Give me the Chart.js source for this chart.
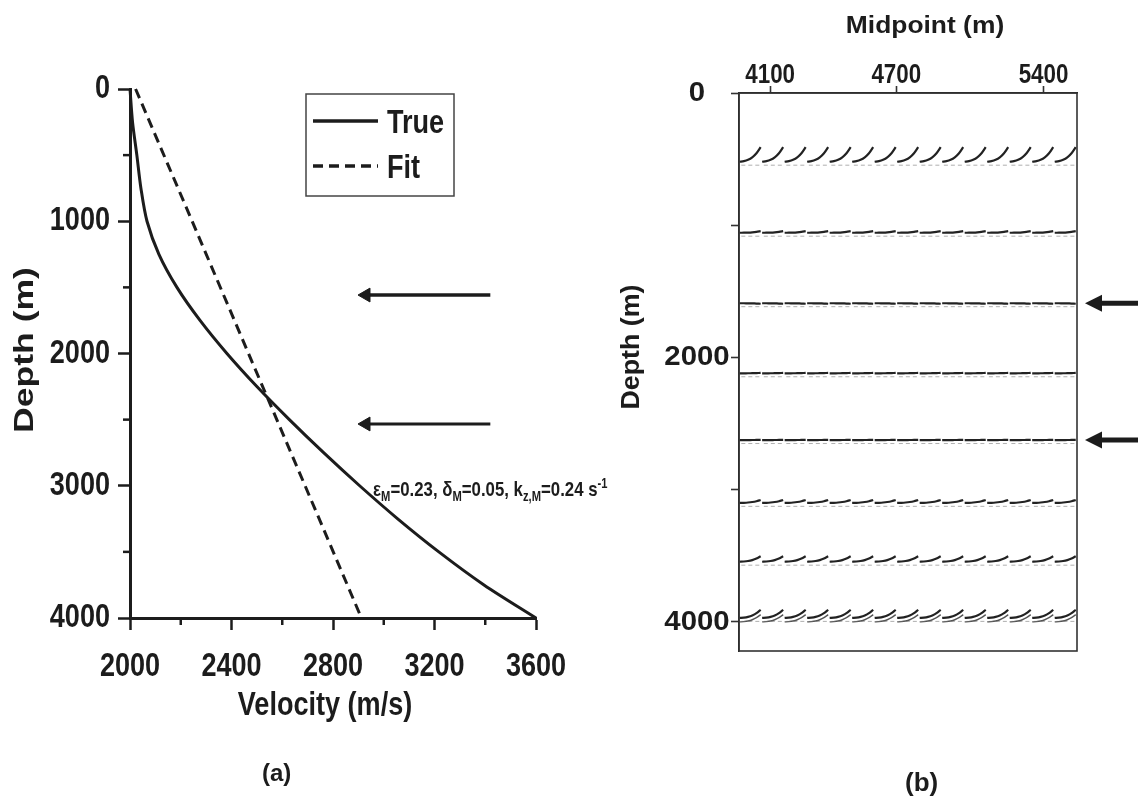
<!DOCTYPE html>
<html>
<head>
<meta charset="utf-8">
<script src="https://cdn.jsdelivr.net/npm/chart.js@4.4.1/dist/chart.umd.min.js"></script>
<style>
  html, body { margin: 0; padding: 0; background: #fff; }
  #wrap { position: relative; width: 1138px; height: 805px; overflow: hidden; background: #fff; }
  canvas { position: absolute; top: 0; }
  #cA { left: 0; }
  #cB { left: 610px; }
  .tag { position: absolute; font-family: "Liberation Sans", Arial, sans-serif; font-weight: bold; color: #1c1c1c; }
</style>
</head>
<body>
<div id="wrap">
  <canvas id="cA" width="620" height="805"></canvas>
  <canvas id="cB" width="528" height="805"></canvas>
  <div class="tag" style="left:262px; top:759px; font-size:24px;">(a)</div>
  <div class="tag" style="left:905px; top:767px; font-size:26px;">(b)</div>
</div>
<script>
const WIDE = '"Liberation Sans", Arial, "DejaVu Sans", sans-serif';
const INK = '#1c1c1c';

// ---------- (a) velocity profiles ----------
const depthA = [0, 250, 500, 750, 1000, 1250, 1500, 1750, 2000, 2250, 2500, 2750, 3000, 3250, 3500, 3750, 4000];
const trueVelocity = [2000, 2010, 2027, 2043, 2067, 2114, 2185, 2276, 2382, 2500, 2628, 2763, 2905, 3055, 3217, 3395, 3600];
const fitDepth = [0, 1000, 2000, 3000, 4000];
const fitVelocity = [2022, 2245, 2467, 2690, 2912];
const velocityTicks = [2000, 2400, 2800, 3200, 3600];
const velocityMinor = [2200, 2600, 3000, 3400];
const depthTicksA = [0, 1000, 2000, 3000, 4000];
const depthMinorA = [500, 1500, 2500, 3500];
const arrowDepthsA = [1558, 2533];
const arrowTailA = 3420;
const arrowHeadA = 2930;
const legendLabels = ['True', 'Fit'];

// ---------- (b) migrated image ----------
const midpointTicks = [4100, 4700, 5400];
const depthTicksB = [0, 1000, 2000, 3000, 4000];
const depthLabelsB = [0, 2000, 4000];
const gatherStarts = [3955, 4062, 4169, 4276, 4383, 4490, 4597, 4704, 4811, 4918, 5025, 5132, 5239, 5346, 5453];
const gatherSpan = 100;
const hookOffsets = [0, 0.2, 0.4, 0.6, 0.8, 1];
const hookShape = [0, 0.04, 0.13, 0.3, 0.58, 1];
const eventDepths = [520, 1057, 1590, 2120, 2625, 3100, 3545, 3970];
const hookAmps = [110, 12, -4, 3, 2, 22, 42, 62];
const echoDepths = [4000];
const echoAmps = [55];
const arrowDepthsB = [1590, 2625];
const arrowTailB = 5850;
const arrowHeadB = 5635;

const pts = (xs, ys) => xs.map((x, i) => ({ x, y: ys[i] }));

// bold text with its own horizontal/vertical scaling (the print uses condensed lettering)
function label(ctx, text, x, y, o) {
  ctx.save();
  ctx.translate(x, y);
  if (o.rotate) ctx.rotate(o.rotate);
  ctx.scale(o.sx || 1, o.sy || 1);
  ctx.font = 'bold ' + o.size + 'px ' + WIDE;
  ctx.textAlign = o.align || 'left';
  ctx.textBaseline = o.baseline || 'alphabetic';
  ctx.fillStyle = INK;
  ctx.fillText(text, 0, 0);
  ctx.restore();
}

const minorTicksPlugin = {
  id: 'minorTicks',
  afterDraw(chart, args, opts) {
    const ctx = chart.ctx;
    ctx.save();
    ctx.strokeStyle = INK;
    ctx.lineWidth = opts.width || 2.5;
    (opts.axes || []).forEach(ax => {
      const s = chart.scales[ax.id];
      ax.values.forEach(v => {
        const p = s.getPixelForValue(v);
        ctx.beginPath();
        if (s.isHorizontal()) {
          ctx.moveTo(p, s.top);
          ctx.lineTo(p, s.top + ax.length);
        } else {
          ctx.moveTo(s.right, p);
          ctx.lineTo(s.right - ax.length, p);
        }
        ctx.stroke();
      });
    });
    ctx.restore();
  }
};

const axisTextA = {
  id: 'axisTextA',
  afterDraw(chart) {
    const { ctx, scales: { x, y }, chartArea: a } = chart;
    velocityTicks.forEach(v => label(ctx, String(v), x.getPixelForValue(v), a.bottom + 58, { size: 33, sx: 0.82, align: 'center' }));
    depthTicksA.forEach(v => label(ctx, String(v), a.left - 20, y.getPixelForValue(v), { size: 33, sx: 0.82, align: 'right', baseline: 'middle' }));
    label(ctx, 'Velocity (m/s)', 325, 715, { size: 33, sx: 0.82, align: 'center' });
    label(ctx, 'Depth (m)', 33, 350, { size: 28, sx: 1.27, align: 'center', rotate: -Math.PI / 2 });
  }
};

const boxLegendPlugin = {
  id: 'boxLegend',
  afterDraw(chart) {
    const { ctx, chartArea: a } = chart;
    const x0 = a.left + 176, y0 = a.top + 5, w = 148, h = 102;
    ctx.save();
    ctx.strokeStyle = '#444';
    ctx.lineWidth = 1.5;
    ctx.strokeRect(x0, y0, w, h);
    chart.data.datasets.filter(d => legendLabels.includes(d.label)).forEach((d, i) => {
      const y = y0 + 27 + i * 45;
      ctx.beginPath();
      ctx.setLineDash(d.borderDash || []);
      ctx.lineWidth = 3.5;
      ctx.strokeStyle = d.borderColor;
      ctx.moveTo(x0 + 7, y);
      ctx.lineTo(x0 + 72, y);
      ctx.stroke();
      ctx.setLineDash([]);
      label(ctx, d.label, x0 + 81, y + 12, { size: 33, sx: 0.82 });
    });
    ctx.restore();
  }
};

const paramNotePlugin = {
  id: 'paramNote',
  afterDraw(chart) {
    const { ctx, scales } = chart;
    let x = scales.x.getPixelForValue(2958);
    const y = scales.y.getPixelForValue(3080);
    const parts = [
      ['\u03B5', 0], ['M', 1], ['=0.23, \u03B4', 0], ['M', 1], ['=0.05, k', 0], ['z,M', 1], ['=0.24 s', 0], ['-1', 2]
    ];
    const sx = 0.8;
    parts.forEach(([t, k]) => {
      const size = k === 0 ? 21 : 14;
      const dy = k === 1 ? 5 : (k === 2 ? -8 : 0);
      label(ctx, t, x, y + dy, { size, sx });
      ctx.save();
      ctx.font = 'bold ' + size + 'px ' + WIDE;
      x += ctx.measureText(t).width * sx;
      ctx.restore();
    });
  }
};

const frameBoxPlugin = {
  id: 'frameBox',
  afterDraw(chart) {
    const { ctx, chartArea: a } = chart;
    ctx.save();
    ctx.strokeStyle = '#333';
    ctx.lineWidth = 1.6;
    ctx.strokeRect(a.left, a.top, a.right - a.left, a.bottom - a.top);
    ctx.restore();
  }
};

const axisTextB = {
  id: 'axisTextB',
  afterDraw(chart) {
    const { ctx, scales: { x, y }, chartArea: a } = chart;
    midpointTicks.forEach(v => label(ctx, String(v), x.getPixelForValue(v), a.top - 10, { size: 28, sx: 0.8, align: 'center' }));
    depthLabelsB.forEach(v => label(ctx, String(v), a.left - 42, y.getPixelForValue(v), { size: 28, sx: 1.05, align: 'center', baseline: 'middle' }));
    label(ctx, 'Midpoint (m)', 315, 33, { size: 24, sx: 1.1, align: 'center' });
    label(ctx, 'Depth (m)', 29, 347, { size: 26, sx: 1.03, align: 'center', rotate: -Math.PI / 2 });
  }
};

// arrow heads for the marker arrows, placed at the last point of each arrow dataset
const arrowHeadPlugin = {
  id: 'arrowHeads',
  afterDatasetsDraw(chart) {
    const ctx = chart.ctx;
    chart.data.datasets.forEach((d, i) => {
      if (!String(d.label).startsWith('arrowB')) return;
      const p = chart.getDatasetMeta(i).data[1];
      ctx.save();
      ctx.fillStyle = INK;
      ctx.beginPath();
      ctx.moveTo(p.x - 8, p.y);
      ctx.lineTo(p.x + 9, p.y - 8.5);
      ctx.lineTo(p.x + 9, p.y + 8.5);
      ctx.closePath();
      ctx.fill();
      ctx.restore();
    });
  }
};

const axisBase = (w) => ({
  border: { display: true, color: INK, width: w },
  ticks: { display: false },
  title: { display: false }
});

new Chart(document.getElementById('cA'), {
  type: 'scatter',
  data: {
    datasets: [
      { label: 'True', data: pts(trueVelocity, depthA), showLine: true, borderColor: INK, borderWidth: 3,
        pointRadius: 0, tension: 0.3, clip: false },
      { label: 'Fit', data: pts(fitVelocity, fitDepth), showLine: true, borderColor: INK, borderWidth: 3,
        borderDash: [10, 6], pointRadius: 0, clip: false },
      ...arrowDepthsA.map((d, i) => ({
        label: 'arrowA' + i,
        data: [{ x: arrowTailA, y: d }, { x: arrowHeadA, y: d }],
        showLine: true, borderColor: INK, borderWidth: i === 0 ? 3.5 : 3,
        pointRadius: [0, 8], pointStyle: 'triangle', pointRotation: 270,
        pointBackgroundColor: INK, pointBorderColor: INK, pointBorderWidth: 1, clip: false
      }))
    ]
  },
  options: {
    responsive: false, animation: false, devicePixelRatio: 1, events: [],
    layout: { padding: { left: 8, top: 89, right: 84, bottom: 77 } },
    plugins: {
      legend: { display: false }, tooltip: { enabled: false },
      minorTicks: { width: 2.5, axes: [
        { id: 'x', values: velocityMinor, length: 7 },
        { id: 'y', values: depthMinorA, length: 7 }
      ] }
    },
    scales: {
      x: {
        ...axisBase(3),
        type: 'linear', position: 'bottom', min: 2000, max: 3600,
        afterBuildTicks: s => { s.ticks = velocityTicks.map(v => ({ value: v })); },
        afterFit: s => { s.height = 110; },
        grid: { drawOnChartArea: false, drawTicks: true, tickLength: 12, tickColor: INK, tickWidth: 2.5 }
      },
      y: {
        ...axisBase(3),
        type: 'linear', position: 'left', reverse: true, min: 0, max: 4000,
        afterBuildTicks: s => { s.ticks = depthTicksA.map(v => ({ value: v })); },
        afterFit: s => { s.width = 122; },
        grid: { drawOnChartArea: false, drawTicks: true, tickLength: 12, tickColor: INK, tickWidth: 2.5 }
      }
    }
  },
  plugins: [minorTicksPlugin, axisTextA, boxLegendPlugin, paramNotePlugin]
});

// reflector traces of each common-image gather
const hookTrace = (z, amp) => {
  const out = [];
  gatherStarts.forEach(g => {
    hookOffsets.forEach((f, k) => out.push({ x: g + f * gatherSpan, y: z - amp * hookShape[k] }));
    out.push({ x: g + gatherSpan, y: null });
  });
  return out;
};

const eventSets = [];
eventDepths.forEach((z, e) => {
  const lobe = [];
  gatherStarts.forEach(g => {
    lobe.push({ x: g + 8, y: z + 26 }, { x: g + gatherSpan - 4, y: z + 26 }, { x: g + gatherSpan, y: null });
  });
  eventSets.push({ label: 'lobe' + e, data: lobe, showLine: true, borderColor: 'rgba(110,110,110,0.55)',
    borderWidth: 1, borderDash: [4, 3], pointRadius: 0, spanGaps: false });
  eventSets.push({ label: 'event' + e, data: hookTrace(z, hookAmps[e]), showLine: true, borderColor: '#222',
    borderWidth: 2.2, pointRadius: 0, tension: 0.3, spanGaps: false });
});
echoDepths.forEach((z, e) => {
  eventSets.push({ label: 'echo' + e, data: hookTrace(z, echoAmps[e]), showLine: true, borderColor: '#555',
    borderWidth: 1.4, pointRadius: 0, tension: 0.3, spanGaps: false });
});

new Chart(document.getElementById('cB'), {
  type: 'scatter',
  data: {
    datasets: [
      ...eventSets,
      ...arrowDepthsB.map((d, i) => ({
        label: 'arrowB' + i,
        data: [{ x: arrowTailB, y: d }, { x: arrowHeadB, y: d }],
        showLine: true, borderColor: INK, borderWidth: 5, pointRadius: 0, clip: false
      }))
    ]
  },
  options: {
    responsive: false, animation: false, devicePixelRatio: 1, events: [],
    layout: { padding: { left: 4, top: 4, right: 61, bottom: 154 } },
    plugins: { legend: { display: false }, tooltip: { enabled: false } },
    scales: {
      x: {
        ...axisBase(1.6),
        type: 'linear', position: 'top', min: 3952, max: 5559,
        afterBuildTicks: s => { s.ticks = midpointTicks.map(v => ({ value: v })); },
        afterFit: s => { s.height = 89; },
        grid: { drawOnChartArea: false, drawTicks: true, tickLength: 7, tickColor: '#333', tickWidth: 1.6 }
      },
      y: {
        ...axisBase(1.6),
        type: 'linear', position: 'left', reverse: true, min: 0, max: 4220,
        afterBuildTicks: s => { s.ticks = depthTicksB.map(v => ({ value: v })); },
        afterFit: s => { s.width = 125; },
        grid: { drawOnChartArea: false, drawTicks: true, tickLength: 8, tickColor: '#333', tickWidth: 1.6 }
      }
    }
  },
  plugins: [frameBoxPlugin, axisTextB, arrowHeadPlugin]
});
</script>
</body>
</html>
